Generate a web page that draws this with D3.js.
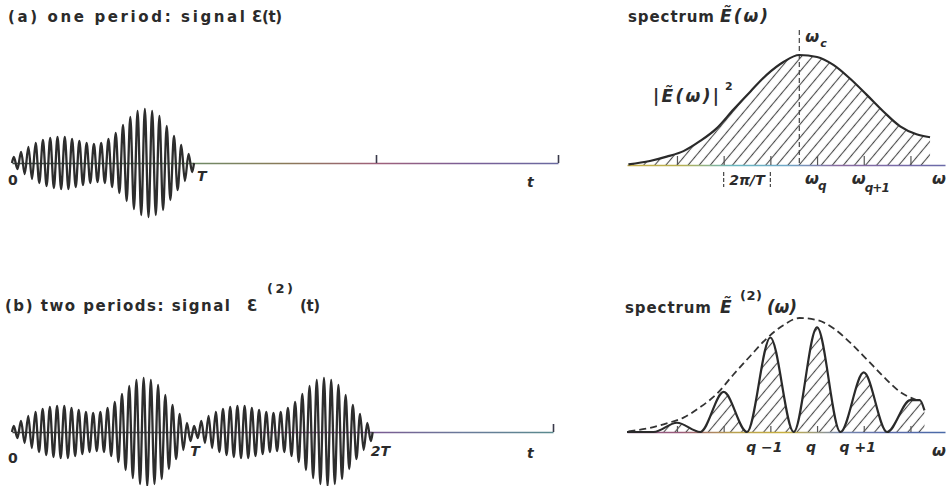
<!DOCTYPE html>
<html>
<head>
<meta charset="utf-8">
<script src="https://cdn.jsdelivr.net/npm/d3@7"></script>
<style>
body { margin: 0; background: #fff; }
text { font-family: "DejaVu Sans", "Liberation Sans", sans-serif; font-weight: bold; fill: #2b2b2b; }
.it { font-style: italic; }
</style>
</head>
<body>
<script>
// peak amplitude of each carrier cycle over one period
var envelope = [6, 11, 16, 20, 23, 25, 26, 26, 24, 22, 20, 19, 20, 24, 30, 38, 46, 52, 54, 52, 47, 37, 27, 18, 9];

// |E(w)|^2 , w in units of 2pi/T counted from w_q
var specW   = [-4.04, -3.58, -3.22, -2.86, -2.51, -2.15, -1.79, -1.43, -1.08, -0.72, -0.38, 0, 0.35, 0.71, 1.06, 1.42, 1.78, 2.13, 2.42];
var specVal = [0.7, 4, 8.4, 14, 24, 37, 56, 74, 91, 104, 111, 109, 101, 87, 71, 54, 39, 31, 28];
var omegaC = -0.38;

// two-period spectrum: lobes at each harmonic
var lobeW   = [-4.07, -3.5, -3, -2.5, -2, -1.5, -1, -0.5, 0, 0.5, 1, 1.5, 2, 2.2, 2.3];
var lobeVal = [0, 0, 9, 0, 39, 0, 92, 0, 102, 0, 58, 0, 31, 31, 21];

var specTicks = [-3, -2, -1, 0, 1, 2];
var qTicks = [-1, 0, 1];
var qLabels = ["q \u22121", "q", "q +1"];

var svg = d3.select("body").append("svg")
    .attr("width", 946)
    .attr("height", 486);
var defs = svg.append("defs");

function gradient(id, x1, x2, colors) {
    var g = defs.append("linearGradient").attr("id", id)
        .attr("gradientUnits", "userSpaceOnUse")
        .attr("x1", x1).attr("x2", x2).attr("y1", 0).attr("y2", 0);
    colors.forEach(function(c, i) {
        g.append("stop").attr("offset", i / (colors.length - 1)).attr("stop-color", c);
    });
}
// scanner colour fringes on the axis lines
gradient("gA", 12, 558, ["#3c4a44", "#4f6f5e", "#6f8a66", "#8a7a58", "#a0607a", "#7a5e96", "#6a6aa0"]);
gradient("gB", 12, 553, ["#404040", "#4a4a52", "#5a5a66", "#8a5a86", "#7a5a92", "#6a7a9a", "#5a8a8e"]);
gradient("gSA", 627, 945, ["#c8b04a", "#b8b050", "#6ab8c0", "#70a8c8", "#8a6aa0", "#7a6aa8", "#6a6aa8"]);
gradient("gSB", 627, 945, ["#8a5a86", "#9a5a7a", "#b8a050", "#c8b040", "#7a8ab0", "#5a6aa8", "#4a6aa8"]);

defs.append("pattern").attr("id", "hatch")
    .attr("patternUnits", "userSpaceOnUse")
    .attr("width", 8.5).attr("height", 8.5)
    .attr("patternTransform", "rotate(40)")
  .append("line")
    .attr("x1", 4.25).attr("y1", -1).attr("x2", 4.25).attr("y2", 9.5)
    .attr("stroke", "#4a4a4a").attr("stroke-width", 1.1);

// ---------- signal panels ----------
function signalPoints(nPeriods) {
    var n = envelope.length;
    var pts = [[0, 0]];
    for (var p = 0; p < nPeriods; p++) {
        envelope.forEach(function(a, i) {
            pts.push([p + (i + 0.25) / n, a]);
            pts.push([p + (i + 0.75) / n, -a]);
        });
    }
    pts.push([nPeriods, 0]);
    return pts;
}

function signalPanel(y0, xRange, nPeriods, ticks, grad) {
    var x = d3.scaleLinear().domain([0, 3]).range(xRange);
    var y = d3.scaleLinear().domain([-54, 54]).range([y0 + 54, y0 - 54]);

    var ax = svg.append("g")
        .attr("transform", "translate(0," + y0 + ")")
        .call(d3.axisTop(x).tickValues(ticks).tickSize(8).tickSizeOuter(0).tickFormat(""));
    ax.select(".domain").attr("stroke", "url(#" + grad + ")").attr("stroke-width", 1.6);
    ax.selectAll(".tick line").attr("stroke", "#3a3a4a").attr("stroke-width", 1.6);

    var line = d3.line()
        .x(function(d) { return x(d[0]); })
        .y(function(d) { return y(d[1]); })
        .curve(d3.curveMonotoneX);

    svg.append("path")
        .datum(signalPoints(nPeriods))
        .attr("d", line)
        .style("fill", "none")
        .style("stroke", "#2d2d2d")
        .style("stroke-width", 2.3);
    return x;
}

var xA = signalPanel(163, [12, 558], 1, [2, 3], "gA");
var xB = signalPanel(432, [12, 553], 2, [3], "gB");

svg.append("text").attr("x", xA(0) - 4).attr("y", 185).attr("font-size", 14).text("0");
svg.append("text").attr("class", "it").attr("x", xA(1) + 3).attr("y", 181).attr("font-size", 14).text("T");
svg.append("text").attr("class", "it").attr("x", 527).attr("y", 187).attr("font-size", 14).text("t");

svg.append("text").attr("x", xB(0) - 4).attr("y", 463).attr("font-size", 14).text("0");
svg.append("text").attr("class", "it").attr("x", xB(1) - 2).attr("y", 456).attr("font-size", 14).text("T");
svg.append("text").attr("class", "it").attr("x", xB(2) - 2).attr("y", 456).attr("font-size", 14).text("2T");
svg.append("text").attr("class", "it").attr("x", 527).attr("y", 458).attr("font-size", 14).text("t");

// titles
svg.append("text").attr("x", 8).attr("y", 22).attr("font-size", 15)
    .attr("textLength", 237).attr("lengthAdjust", "spacing").text("(a) one period: signal");
svg.append("text").attr("x", 252).attr("y", 22).attr("font-size", 15)
    .attr("textLength", 30).attr("lengthAdjust", "spacing").text("\u0190(t)");

svg.append("text").attr("x", 5).attr("y", 311).attr("font-size", 15)
    .attr("textLength", 225).attr("lengthAdjust", "spacing").text("(b) two periods: signal");
svg.append("text").attr("x", 247).attr("y", 311).attr("font-size", 15).text("\u0190");
svg.append("text").attr("x", 267).attr("y", 293).attr("font-size", 13)
    .attr("textLength", 26).attr("lengthAdjust", "spacing").text("(2)");
svg.append("text").attr("x", 300).attr("y", 311).attr("font-size", 15)
    .attr("textLength", 20).attr("lengthAdjust", "spacing").text("(t)");

// ---------- spectrum panels ----------
var xS = d3.scaleLinear().domain([-4.07, 2.74]).range([627, 945]);

function spectrumAxis(y0, tickLen, grad) {
    var ax = svg.append("g")
        .attr("transform", "translate(0," + y0 + ")")
        .call(d3.axisTop(xS).tickValues(specTicks).tickSize(tickLen).tickSizeOuter(0).tickFormat(""));
    ax.select(".domain").attr("stroke", "url(#" + grad + ")").attr("stroke-width", 1.6);
    ax.selectAll(".tick line").attr("stroke", "#555").attr("stroke-width", 1.2);
}

// (a) single period spectrum
var yA = d3.scaleLinear().domain([0, 111]).range([165, 55]);
var specData = specW.map(function(w, i) { return [w, specVal[i]]; });

svg.append("path")
    .datum(specData)
    .attr("d", d3.area()
        .x(function(d) { return xS(d[0]); })
        .y0(yA(0))
        .y1(function(d) { return yA(d[1]); })
        .curve(d3.curveMonotoneX))
    .attr("fill", "url(#hatch)");

spectrumAxis(165, 9, "gSA");

svg.append("line")
    .attr("x1", xS(omegaC)).attr("x2", xS(omegaC))
    .attr("y1", 30).attr("y2", 165)
    .attr("stroke", "#444").attr("stroke-width", 1.2)
    .attr("stroke-dasharray", "5,3");

svg.append("path")
    .datum(specData)
    .attr("d", d3.line()
        .x(function(d) { return xS(d[0]); })
        .y(function(d) { return yA(d[1]); })
        .curve(d3.curveMonotoneX))
    .style("fill", "none")
    .style("stroke", "#2a2a2a")
    .style("stroke-width", 2.2);

// 2pi/T spacing marker
[-2, -1].forEach(function(w) {
    svg.append("line")
        .attr("x1", xS(w)).attr("x2", xS(w))
        .attr("y1", 172).attr("y2", 187)
        .attr("stroke", "#444").attr("stroke-width", 1.2)
        .attr("stroke-dasharray", "4,2");
});
svg.append("text").attr("class", "it").attr("x", xS(-1.5)).attr("y", 185)
    .attr("text-anchor", "middle").attr("font-size", 14).text("2\u03c0/T");

svg.append("text").attr("class", "it").attr("x", xS(0) - 12).attr("y", 184).attr("font-size", 16).text("\u03c9");
svg.append("text").attr("class", "it").attr("x", xS(0) + 1).attr("y", 190).attr("font-size", 12).text("q");
svg.append("text").attr("class", "it").attr("x", xS(1) - 12).attr("y", 184).attr("font-size", 16).text("\u03c9");
svg.append("text").attr("class", "it").attr("x", xS(1) + 1).attr("y", 192).attr("font-size", 12)
    .attr("textLength", 25).attr("lengthAdjust", "spacing").text("q+1");
svg.append("text").attr("class", "it").attr("x", 932).attr("y", 184).attr("font-size", 16).text("\u03c9");

svg.append("text").attr("class", "it").attr("x", xS(omegaC) + 6).attr("y", 42).attr("font-size", 16).text("\u03c9");
svg.append("text").attr("class", "it").attr("x", xS(omegaC) + 21).attr("y", 47).attr("font-size", 11).text("c");

svg.append("text").attr("class", "it").attr("x", 653).attr("y", 102).attr("font-size", 17)
    .attr("textLength", 66).attr("lengthAdjust", "spacing").text("|\u1ebc(\u03c9)|");
svg.append("text").attr("x", 725).attr("y", 90).attr("font-size", 11).text("2");

svg.append("text").attr("x", 628).attr("y", 22).attr("font-size", 15)
    .attr("textLength", 86).attr("lengthAdjust", "spacing").text("spectrum");
svg.append("text").attr("class", "it").attr("x", 720).attr("y", 22).attr("font-size", 17)
    .attr("textLength", 48).attr("lengthAdjust", "spacing").text("\u1ebc(\u03c9)");

// (b) two period spectrum
var yB = d3.scaleLinear().domain([0, 111]).range([432, 318]);
var lobeData = lobeW.map(function(w, i) { return [w, lobeVal[i]]; });

svg.append("path")
    .datum(lobeData)
    .attr("d", d3.area()
        .x(function(d) { return xS(d[0]); })
        .y0(yB(0))
        .y1(function(d) { return yB(d[1]); })
        .curve(d3.curveMonotoneX))
    .attr("fill", "url(#hatch)");

spectrumAxis(432, 6, "gSB");

svg.append("path")
    .datum(specData.filter(function(d) { return d[0] <= 2.2; }))
    .attr("d", d3.line()
        .x(function(d) { return xS(d[0]); })
        .y(function(d) { return yB(d[1]); })
        .curve(d3.curveMonotoneX))
    .style("fill", "none")
    .style("stroke", "#333")
    .style("stroke-width", 1.8)
    .style("stroke-dasharray", "7,4");

svg.append("path")
    .datum(lobeData)
    .attr("d", d3.line()
        .x(function(d) { return xS(d[0]); })
        .y(function(d) { return yB(d[1]); })
        .curve(d3.curveMonotoneX))
    .style("fill", "none")
    .style("stroke", "#2a2a2a")
    .style("stroke-width", 2.2);

qTicks.forEach(function(w, i) {
    svg.append("text").attr("class", "it")
        .attr("x", xS(w) - 6).attr("y", 452)
        .attr("text-anchor", "middle").attr("font-size", 14)
        .text(qLabels[i]);
});
svg.append("text").attr("class", "it").attr("x", 932).attr("y", 456).attr("font-size", 16).text("\u03c9");

svg.append("text").attr("x", 625).attr("y", 313).attr("font-size", 15)
    .attr("textLength", 86).attr("lengthAdjust", "spacing").text("spectrum");
svg.append("text").attr("class", "it").attr("x", 720).attr("y", 313).attr("font-size", 17).text("\u1ebc");
svg.append("text").attr("x", 740).attr("y", 300).attr("font-size", 13)
    .attr("textLength", 22).attr("lengthAdjust", "spacing").text("(2)");
svg.append("text").attr("class", "it").attr("x", 767).attr("y", 313).attr("font-size", 17)
    .attr("textLength", 30).attr("lengthAdjust", "spacing").text("(\u03c9)");
</script>
</body>
</html>
